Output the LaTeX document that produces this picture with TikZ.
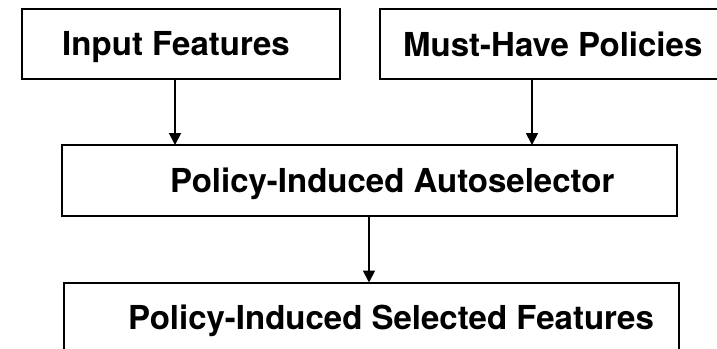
\documentclass[tikz,border=0pt]{standalone}
\usepackage{fontspec}
\setmainfont{TeX Gyre Heros}
\usetikzlibrary{arrows.meta}
\tikzset{
  flowbox/.style={draw=black, line width=2pt, rectangle, inner sep=0pt, outer sep=0pt, anchor=north west},
  boxtext/.style={inner sep=0pt, anchor=base west, font=\fontsize{33}{38}\selectfont\bfseries},
  flowarrow/.style={draw=black, line width=1.8pt, -{Triangle[width=12pt,length=12pt]}}
}
\begin{document}
\begin{tikzpicture}[x=1pt, y=-1pt]
  \useasboundingbox (0,0) rectangle (717,348);
  \clip (0,0) rectangle (717,348);
  \fill[white] (0,0) rectangle (717,348);

  % boxes
  \node[flowbox, minimum width=318pt, minimum height=70pt] (input) at (22,9) {};
  \node[flowbox, minimum width=370pt, minimum height=70pt] (policies) at (380,9) {};
  \node[flowbox, minimum width=615.5pt, minimum height=70.5pt] (auto) at (61.5,145) {};
  \node[flowbox, minimum width=615pt, minimum height=90pt] (selected) at (64,282.5) {};

  % labels
  \node[boxtext] (tinput) at (62,55.7) {Input Features};
  \node[boxtext] (tpolicies) at (403,56) {Must-Have Policies};
  \node[boxtext] (tauto) at (170,192) {Policy-Induced Autoselector};
  \node[boxtext] (tselected) at (128,329) {Policy-Induced Selected Features};

  % connectors
  \draw[flowarrow] (input.south -| 175,0) -- (auto.north -| 175,0);
  \draw[flowarrow] (policies.south -| 532,0) -- (auto.north -| 532,0);
  \draw[flowarrow] (auto.south -| 369,0) -- (selected.north -| 369,0);
\end{tikzpicture}
\end{document}
